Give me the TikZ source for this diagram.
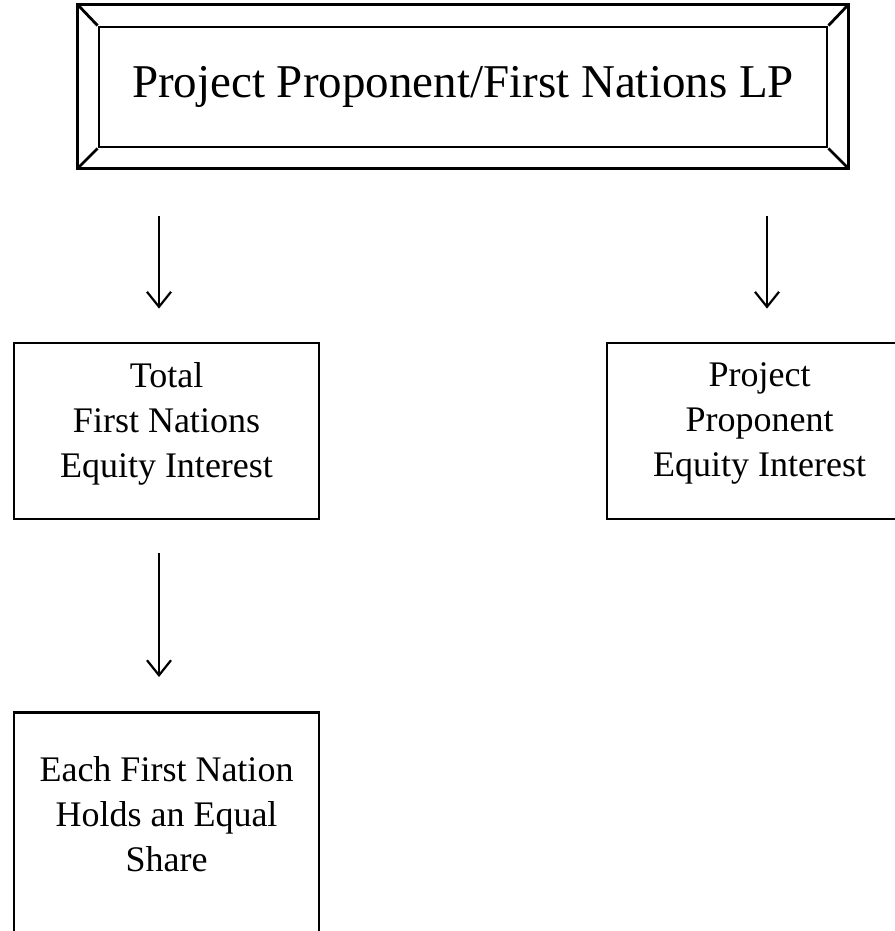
\documentclass[tikz,border=0pt]{standalone}
\usepackage{fontspec}
\setmainfont{Liberation Serif}
\usetikzlibrary{arrows.meta}
\begin{document}
\begin{tikzpicture}[x=1pt, y=-1pt,
  eqbox/.style={draw, line width=2.8pt, minimum width=305pt, minimum height=176pt, align=center, font=\fontsize{36}{45}\selectfont},
  arr/.style={line width=2.2pt, -{Straight Barb[length=15pt, width=24pt]}}]
\useasboundingbox (0,0) rectangle (894,931);
% top box with bevelled frame
\node[draw, line width=2.8pt, minimum width=728pt, minimum height=120pt, font=\fontsize{47}{56}\selectfont] (lp) at (463,87) {Project Proponent/First Nations LP};
\draw[line width=2.8pt] ([xshift=-20pt,yshift=21pt]lp.north west) rectangle ([xshift=20pt,yshift=-20pt]lp.south east);
\foreach \c/\dx/\dy in {north west/-20/21, north east/20/21, south east/20/-20, south west/-20/-20}
  \draw[line width=2.8pt] (lp.\c) -- ([xshift=\dx pt,yshift=\dy pt]lp.\c);
% equity boxes
\node[eqbox, text depth=22pt] (tfn) at (166.5,431) {Total\\First Nations\\Equity Interest};
\node[eqbox, text depth=22pt] (ppe) at (759.5,431) {Project\\Proponent\\Equity Interest};
\node[eqbox, anchor=north, minimum height=0pt, inner ysep=44pt, text depth=150pt] (efn) at (166.5,711) {Each First Nation\\Holds an Equal\\Share};
% arrows
\draw[arr, shorten <=68pt, shorten >=33pt] ([xshift=-7.5pt]tfn.north |- lp.south) -- ([xshift=-7.5pt]tfn.north);
\draw[arr, shorten <=68pt, shorten >=33pt] ([xshift=7.5pt]ppe.north |- lp.south) -- ([xshift=7.5pt]ppe.north);
\draw[arr, shorten <=33pt, shorten >=34pt] ([xshift=-7.5pt]tfn.south) -- ([xshift=-7.5pt]tfn.south |- efn.north);
\end{tikzpicture}
\end{document}
